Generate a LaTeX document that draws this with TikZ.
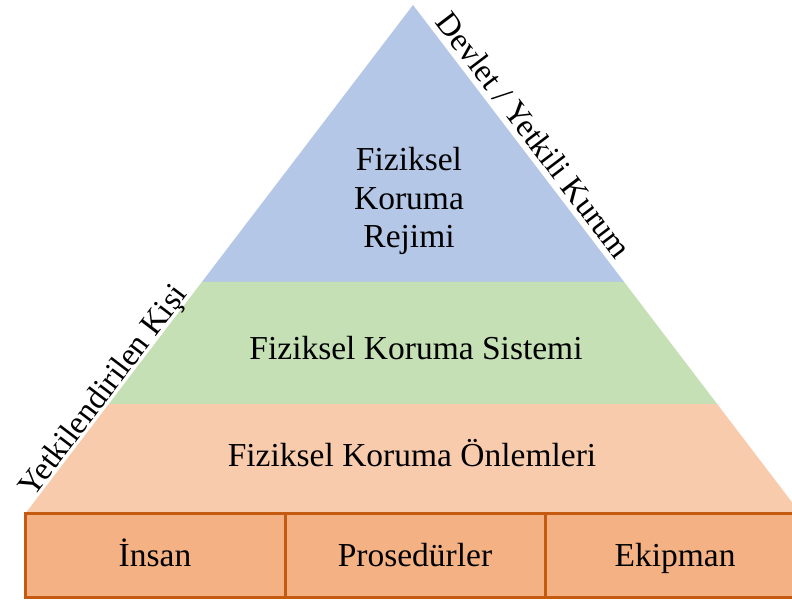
\documentclass[tikz,border=0pt]{standalone}
\usepackage{fontspec}
\setmainfont{Liberation Serif}
\usepackage{tikz}
\usetikzlibrary{positioning, calc}
\definecolor{regime}{HTML}{B4C7E7}
\definecolor{system}{HTML}{C5E0B4}
\definecolor{measure}{HTML}{F8CBAD}
\definecolor{cellfill}{HTML}{F4B183}
\definecolor{celledge}{HTML}{C55A11}
\tikzstyle{cell} = [rectangle, minimum width = 260, minimum height = 84,
  draw = celledge, fill = cellfill, line width = 3, outer sep = 0,
  text height = 26, text depth = 4, text centered]
\tikzstyle{layer} = [align = center, inner sep = 0]
\tikzstyle{side} = [inner sep = 0, font = \fontsize{32.5}{38}\selectfont]

\begin{document}
\begin{tikzpicture}[x = 1pt, y = 1pt, node distance = 0,
    font = \fontsize{33.5}{38.5}\selectfont]
      \clip (0, 0) rectangle (792, 604);
      % corners
      \coordinate (apex) at (413, 599);
      \coordinate (base-l) at (25, 90);
      \coordinate (base-r) at (801, 90);
      % layers
      \fill [regime] (apex) -- ($(apex)!0.5442!(base-r)$)
        -- ($(apex)!0.5442!(base-l)$) -- cycle;
      \fill [system] ($(apex)!0.5442!(base-l)$) -- ($(apex)!0.5442!(base-r)$)
        -- ($(apex)!0.7839!(base-r)$) -- ($(apex)!0.7839!(base-l)$) -- cycle;
      \fill [measure] ($(apex)!0.7839!(base-l)$) -- ($(apex)!0.7839!(base-r)$)
        -- (base-r) -- (base-l) -- cycle;
      \node [layer] (layer-0) at (409, 403) {Fiziksel\\Koruma\\Rejimi};
      \node [layer, anchor = base] (layer-1) at (416, 244.7) {Fiziksel Koruma Sistemi};
      \node [layer, anchor = base] (layer-2) at (412, 137.3) {Fiziksel Koruma Önlemleri};
      % base
      \node [cell] (cell-0) at (155, 48) {İnsan};
      \node [cell, right = of cell-0] (cell-1) {Prosedürler};
      \node [cell, right = of cell-1] (cell-2) {Ekipman};
      % sides
      \node [side, rotate = -52.7, anchor = base]
        (side-r) at ($(apex)!0.276!(base-r) + (5, 3.8)$) {Devlet / Yetkili Kurum};
      \node [side, rotate = 52.7, anchor = base]
        (side-l) at ($(base-l)!0.2275!(apex) + (-2.4, 1.8)$) {Yetkilendirilen Kişi};
    \end{tikzpicture}
\end{document}
